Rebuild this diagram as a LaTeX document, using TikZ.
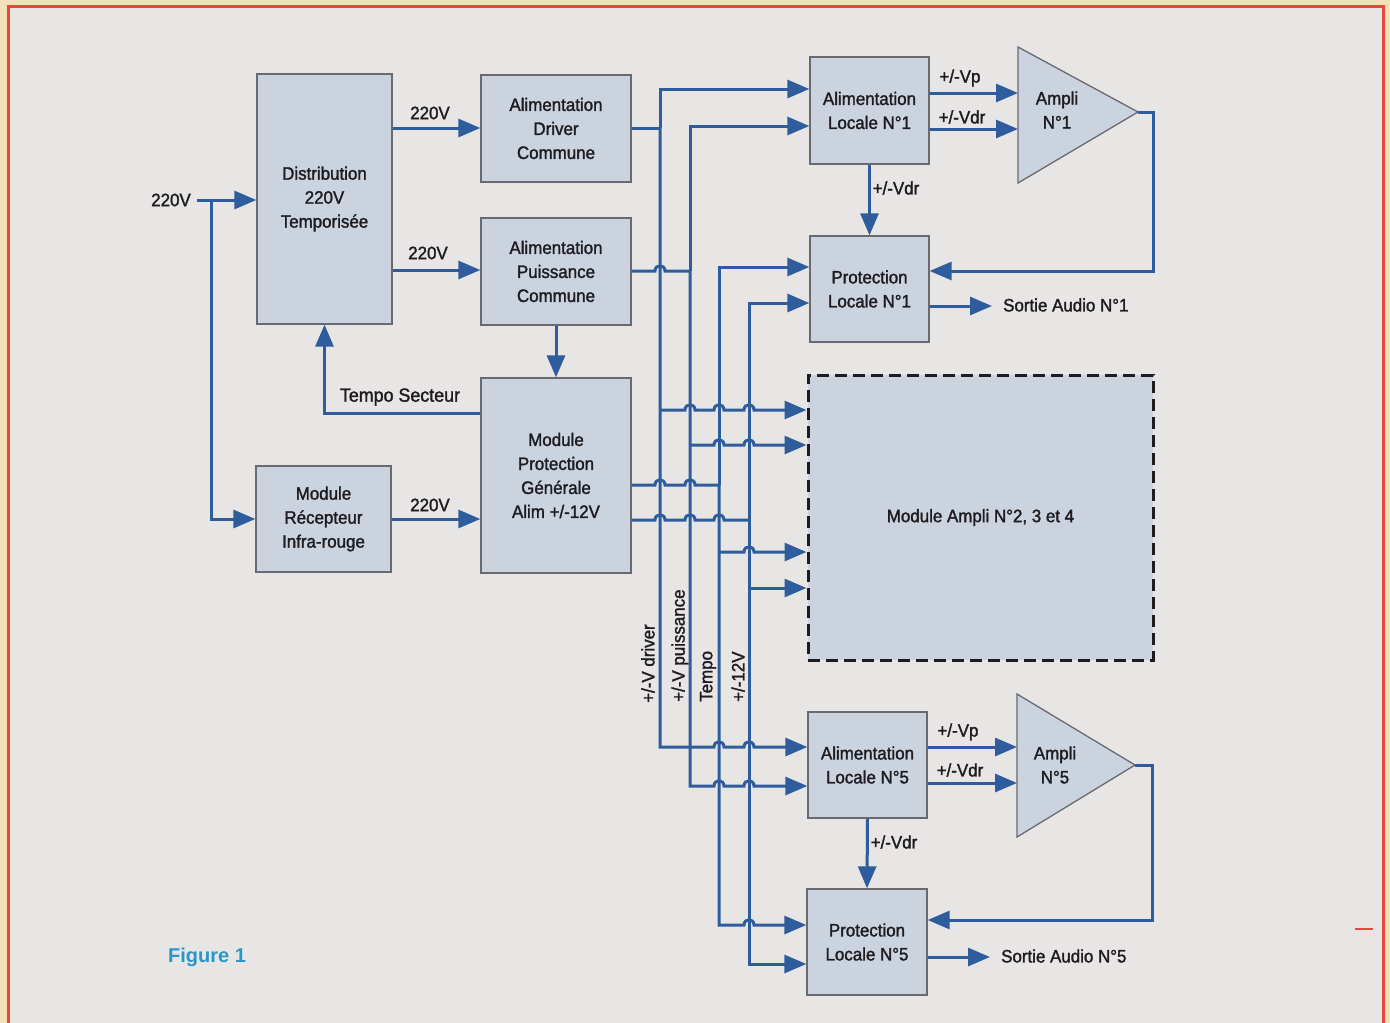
\documentclass[tikz,border=0pt]{standalone}
\usepackage{fontspec}
\setmainfont{Liberation Sans}[FakeBold=1.6, FakeStretch=0.94]
\newfontfamily\figfont{Liberation Sans Bold}
\usetikzlibrary{arrows.meta}
\definecolor{boxfill}{RGB}{203,212,222}
\definecolor{boxline}{RGB}{105,105,112}
\definecolor{blueline}{RGB}{46,92,156}
\definecolor{bgpaper}{RGB}{231,230,228}
\definecolor{beige}{RGB}{243,224,184}
\definecolor{redframe}{RGB}{232,72,60}
\definecolor{figcyan}{RGB}{40,150,205}
\definecolor{txt}{RGB}{30,28,32}
\newcommand{\hp}[2]{-- (#1-5,#2) .. controls (#1-5,#2-7) and (#1+5,#2-7) .. (#1+5,#2)}
\begin{document}
\begin{tikzpicture}[x=1pt,y=-1pt,
  box/.style={draw=boxline, line width=1.3pt, fill=boxfill, align=center, inner sep=0pt,
    font=\fontsize{18}{24}\selectfont, text=txt},
  wire/.style={draw=blueline, line width=3pt},
  arr/.style={wire, -{Triangle[length=22pt,width=18pt]}},
  lbl/.style={font=\fontsize{18}{24}\selectfont, text=txt, inner sep=0pt, align=center},
]
\useasboundingbox (0,0) rectangle (1390,1023);
\fill[beige] (0,0) rectangle (1390,1023);
\fill[bgpaper] (8,6) rectangle (1383,1023);
\draw[redframe, line width=3pt] (8,1023) -- (8,6) -- (1383,6) -- (1383,1023);
\draw[redframe, line width=1.5pt] (1355,929) -- (1373,929);

% boxes
\node[box, minimum width=135pt, minimum height=250pt] (dist) at (324.5,199) {Distribution\\220V\\Temporisée};
\node[box, minimum width=150pt, minimum height=107pt] (adc) at (556,128.5) {Alimentation\\Driver\\Commune};
\node[box, minimum width=150pt, minimum height=107pt] (apc) at (556,271.5) {Alimentation\\Puissance\\Commune};
\node[box, minimum width=150pt, minimum height=195pt] (mpg) at (556,475.5) {Module\\Protection\\Générale\\Alim +/-12V};
\node[box, minimum width=135pt, minimum height=106pt] (mri) at (323.5,519) {Module\\Récepteur\\Infra-rouge};
\node[box, minimum width=119pt, minimum height=107pt] (al1) at (869.5,110.5) {Alimentation\\Locale N°1};
\node[box, minimum width=119pt, minimum height=106pt] (pl1) at (869.5,289) {Protection\\Locale N°1};
\node[box, draw=txt, line width=3pt, dash pattern=on 12pt off 6pt, minimum width=345pt, minimum height=285pt] (mod) at (980.5,517.5) {Module Ampli N°2, 3 et 4};
\node[box, minimum width=119pt, minimum height=106pt] (al5) at (867.5,765) {Alimentation\\Locale N°5};
\node[box, minimum width=120pt, minimum height=106pt] (pl5) at (867,942) {Protection\\Locale N°5};

% amplifiers
\draw[boxline, line width=1.3pt, fill=boxfill] (1018,47) -- (1138,112) -- (1018,183) -- cycle;
\coordinate (a1w) at (1018,112);
\coordinate (a1t) at (1138,112);
\node[lbl] (a1txt) at (1057,110) {Ampli\\N°1};
\draw[boxline, line width=1.3pt, fill=boxfill] (1017,694) -- (1135,765) -- (1017,837) -- cycle;
\coordinate (a5w) at (1017,765);
\coordinate (a5t) at (1135,765);
\node[lbl] (a5txt) at (1055,765) {Ampli\\N°5};

% left side
\node[lbl] (in220) at (171,200) {220V};
\coordinate (inl) at (197,200);
\coordinate (j1) at (211,200);
\draw[arr] (inl) -- (dist.west |- 0,200);
\draw[arr] (j1) -- (211,519) -- (mri.west |- 0,519);
\draw[arr] (dist.east |- 0,128) -- (adc.west |- 0,128);
\node[lbl] (l220a) at (430,113) {220V};
\draw[arr] (dist.east |- 0,270) -- (apc.west |- 0,270);
\node[lbl] (l220b) at (428,253) {220V};
\draw[arr] (mri.east |- 0,519) -- (mpg.west |- 0,519);
\node[lbl] (l220c) at (430,505) {220V};
\draw[arr] (mpg.west |- 0,413) -| (dist.south);
\node[lbl, font=\fontsize{19}{22}\selectfont] (ltempo) at (400,397) {Tempo Secteur};
\draw[arr] (apc.south) -- (mpg.north);

% bus line 1 : +/-V driver (x=660)
\draw[wire] (adc.east |- 0,128) -- (660,128);
\draw[arr] (660,128) -- (660,89) -- (al1.west |- 0,89);
\draw[arr] (660,128) -- (660,747) \hp{719}{747} \hp{749}{747} -- (al5.west |- 0,747);
\draw[arr] (660,410) \hp{690}{410} \hp{719}{410} \hp{749}{410} -- (mod.west |- 0,410);
% bus line 2 : +/-V puissance (x=690)
\draw[wire] (apc.east |- 0,271) \hp{660}{271} -- (690,271);
\draw[arr] (690,271) -- (690,126) -- (al1.west |- 0,126);
\draw[arr] (690,271) -- (690,786) \hp{719}{786} \hp{749}{786} -- (al5.west |- 0,786);
\draw[arr] (690,445) \hp{719}{445} \hp{749}{445} -- (mod.west |- 0,445);
% bus line 3 : Tempo (x=719)
\draw[wire] (mpg.east |- 0,485) \hp{660}{485} \hp{690}{485} -- (719,485);
\draw[arr] (719,485) -- (719,267) -- (pl1.west |- 0,267);
\draw[arr] (719,485) -- (719,925) \hp{749}{925} -- (pl5.west |- 0,925);
\draw[arr] (719,552) \hp{749}{552} -- (mod.west |- 0,552);
% bus line 4 : +/-12V (x=749)
\draw[wire] (mpg.east |- 0,520) \hp{660}{520} \hp{690}{520} \hp{719}{520} -- (749,520);
\draw[arr] (749,520) -- (749,303) -- (pl1.west |- 0,303);
\draw[arr] (749,520) -- (749,964) -- (pl5.west |- 0,964);
\draw[arr] (749,588) -- (mod.west |- 0,588);

% bus labels
\node[lbl, rotate=90, anchor=west] (tdrv) at (648,703) {+/-V driver};
\node[lbl, rotate=90, anchor=west] (tpui) at (680,702) {+/-V puissance};
\node[lbl, rotate=90, anchor=west] (ttmp) at (708,702) {Tempo};
\node[lbl, rotate=90, anchor=west] (t12) at (738,702) {+/-12V};

% channel 1
\draw[arr] (al1.east |- 0,93) -- (a1w |- 0,93);
\node[lbl] (vp1) at (960,78) {+/-Vp};
\draw[arr] (al1.east |- 0,129) -- (a1w |- 0,129);
\node[lbl] (vd1) at (962,117) {+/-Vdr};
\draw[arr] (al1.south) -- (pl1.north);
\node[lbl] (vd1b) at (896,188) {+/-Vdr};
\draw[arr] (a1t) -- (1153,112) -- (1153,271) -- (pl1.east |- 0,271);
\coordinate (so1) at (992,306);
\draw[arr] (pl1.east |- 0,306) -- (so1);
\node[lbl, anchor=west] (sa1) at (1003,305) {Sortie Audio N°1};

% channel 5
\draw[arr] (al5.east |- 0,747) -- (a5w |- 0,747);
\node[lbl] (vp5) at (958,732) {+/-Vp};
\draw[arr] (al5.east |- 0,783) -- (a5w |- 0,783);
\node[lbl] (vd5) at (960,770) {+/-Vdr};
\draw[arr] (al5.south) -- (pl5.north);
\node[lbl] (vd5b) at (894,842) {+/-Vdr};
\draw[arr] (a5t) -- (1152,765) -- (1152,920) -- (pl5.east |- 0,920);
\coordinate (so5) at (990,957);
\draw[arr] (pl5.east |- 0,957) -- (so5);
\node[lbl, anchor=west] (sa5) at (1001,956) {Sortie Audio N°5};

% caption
\node[lbl, font=\figfont\fontsize{20}{24}\selectfont, text=figcyan] (fig) at (207,957) {Figure 1};
\end{tikzpicture}
\end{document}
